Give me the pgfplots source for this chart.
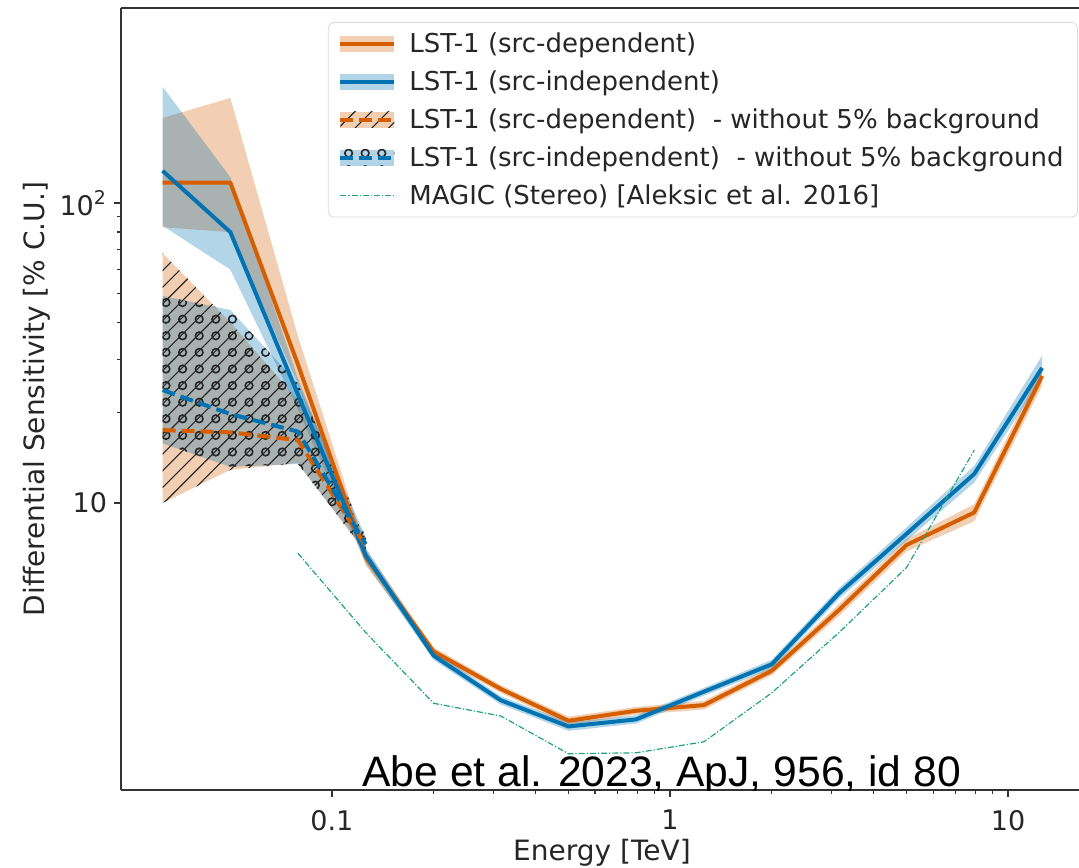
\documentclass[border=0pt]{standalone}
\usepackage{fontspec}
\setmainfont{DejaVu Sans}
\newfontfamily\arialfont{Liberation Sans}
\usepackage{pgfplots}
\pgfplotsset{compat=1.18}
\usetikzlibrary{patterns.meta}

\definecolor{cOr}{HTML}{D55E00}
\definecolor{cBl}{HTML}{0173B2}
\definecolor{cGr}{HTML}{1FA37E}

\tikzdeclarepattern{
  name=rings,
  type=uncolored,
  bottom left={(-4.15pt,-4.15pt)},
  top right={(4.15pt,4.15pt)},
  tile size={(8.3pt,8.3pt)},
  code={\draw[line width=0.8pt] (0pt,0pt) circle (1.9pt);}
}

\begin{document}
\begin{tikzpicture}
\begin{axis}[
  at={(0,0)}, anchor=south west,
  scale only axis, width=479pt, height=391pt,
  xmode=log, ymode=log,
  xmin=0.0238, xmax=16.2, ymin=1.105, ymax=446.7,
  axis y line*=left,
  xtick pos=left,
  axis line style={black!80, line width=0.8pt},
  tick align=outside,
  major tick length=3.5pt, minor tick length=2pt,
  every tick/.style={black!80, line width=0.8pt},
  every minor tick/.style={black!80, line width=0.6pt},
  xtick={0.1,1,10}, xticklabels={0.1,1,10},
  ytick={10,100}, yticklabels={10,10\textsuperscript{2}},
  tick label style={font=\fontsize{13.5}{16}\selectfont, black!85},
  xticklabel style={yshift=-3pt},
  xlabel={Energy [TeV]},
  ylabel={Differential Sensitivity [\% C.U.]},
  every axis x label/.style={at={(axis description cs:0.502,-0.08)}, anchor=center, font=\fontsize{14}{17}\selectfont, black!85},
  every axis y label/.style={at={(axis description cs:-0.0878,0.5)}, rotate=90, anchor=center, font=\fontsize{14}{17}\selectfont, black!85},
  legend style={at={(rel axis cs:0.216,0.982)}, anchor=north west,
    draw=black!15, rounded corners=3pt, fill=white,
    font=\fontsize{13}{15.6}\selectfont, text=black!85,
    row sep=3.6pt, inner xsep=5pt, inner ysep=3pt,
    /tikz/every odd column/.append style={column sep=4.5pt}},
  legend cell align=left,
]
% ---- solid bands
\addplot[forget plot, fill=cOr, fill opacity=0.3, draw=none] coordinates {
 (0.0316,192) (0.0501,224) (0.0794,36) (0.126,7.0) (0.2,3.30) (0.316,2.47) (0.501,1.94) (0.794,2.09) (1.26,2.19) (2.0,2.85) (3.16,4.6) (5.01,7.6) (7.94,9.9) (12.6,28.5)
 (12.6,24.6) (7.94,8.7) (5.01,6.9) (3.16,4.2) (2.0,2.67) (1.26,2.05) (0.794,1.97) (0.501,1.82) (0.316,2.33) (0.2,3.10) (0.126,6.2) (0.0794,25) (0.0501,80) (0.0316,83)
} -- cycle;
\addplot[forget plot, fill=cBl, fill opacity=0.3, draw=none] coordinates {
 (0.0316,244) (0.0501,122) (0.0794,26) (0.126,7.1) (0.2,3.2) (0.316,2.27) (0.501,1.86) (0.794,1.96) (1.26,2.42) (2.0,3.0) (3.16,5.2) (5.01,8.3) (7.94,13.3) (12.6,31)
 (12.6,26) (7.94,11.7) (5.01,7.5) (3.16,4.8) (2.0,2.8) (1.26,2.28) (0.794,1.84) (0.501,1.74) (0.316,2.13) (0.2,3.0) (0.126,6.3) (0.0794,20.5) (0.0501,60) (0.0316,84)
} -- cycle;
% ---- bands without background
\addplot[forget plot, fill=cOr, fill opacity=0.3, draw=none] coordinates {
 (0.0316,68) (0.0501,40) (0.0794,22) (0.126,7.6)
 (0.126,6.8) (0.0794,13.6) (0.0501,12.9) (0.0316,10)
} -- cycle;
\addplot[forget plot, fill=cBl, fill opacity=0.3, draw=none] coordinates {
 (0.0316,49) (0.0501,44) (0.0794,25) (0.126,7.7)
 (0.126,6.9) (0.0794,13.5) (0.0501,13.2) (0.0316,15.8)
} -- cycle;
\addplot[forget plot, draw=none, pattern={Lines[angle=45,distance=5.9pt,line width=0.55pt]}, pattern color=black!85] coordinates {
 (0.0316,68) (0.0501,40) (0.0794,22) (0.126,7.6)
 (0.126,6.8) (0.0794,13.6) (0.0501,12.9) (0.0316,10)
} -- cycle;
\addplot[forget plot, draw=none, pattern=rings, pattern color=black!85] coordinates {
 (0.0316,49) (0.0501,44) (0.0794,25) (0.126,7.7)
 (0.126,6.9) (0.0794,13.5) (0.0501,13.2) (0.0316,15.8)
} -- cycle;
% ---- lines
\addplot[forget plot, cOr, line width=2pt, line join=round] coordinates {
 (0.0316,117) (0.0501,117) (0.0794,29) (0.126,6.6) (0.2,3.2) (0.316,2.4) (0.501,1.88) (0.794,2.03) (1.26,2.12) (2.0,2.76) (3.16,4.4) (5.01,7.25) (7.94,9.3) (12.6,26.5)
};
\addplot[forget plot, cBl, line width=2pt, line join=round] coordinates {
 (0.0316,128) (0.0501,80) (0.0794,23) (0.126,6.7) (0.2,3.1) (0.316,2.2) (0.501,1.8) (0.794,1.9) (1.26,2.35) (2.0,2.9) (3.16,5.0) (5.01,7.9) (7.94,12.5) (12.6,28.2)
};
\addplot[forget plot, cOr, line width=2pt, dash pattern=on 6.5pt off 3pt] coordinates {
 (0.0316,17.5) (0.0501,17.2) (0.0794,16.2) (0.126,7.2)
};
\addplot[forget plot, cBl, line width=2pt, dash pattern=on 6.5pt off 3pt] coordinates {
 (0.0316,23.8) (0.0501,19.8) (0.0794,17.3) (0.126,7.3)
};
\addplot[forget plot, cGr, line width=0.6pt, dash pattern=on 3pt off 1pt on 0.6pt off 1pt] coordinates {
 (0.0794,6.8) (0.126,3.7) (0.2,2.15) (0.316,1.95) (0.501,1.46) (0.794,1.47) (1.26,1.6) (2.0,2.33) (3.16,3.7) (5.01,6.1) (7.94,15.0)
};
% ---- legend
\addlegendimage{legend image code/.code={
  \fill[cOr, fill opacity=0.3, draw=none, sharp corners] (0pt,-4pt) rectangle (27pt,4pt);
  \draw[cOr, line width=2pt, sharp corners] (0pt,0pt) -- (27pt,0pt);}}
\addlegendentry{LST-1 (src-dependent)}
\addlegendimage{legend image code/.code={
  \fill[cBl, fill opacity=0.3, draw=none, sharp corners] (0pt,-4pt) rectangle (27pt,4pt);
  \draw[cBl, line width=2pt, sharp corners] (0pt,0pt) -- (27pt,0pt);}}
\addlegendentry{LST-1 (src-independent)}
\addlegendimage{legend image code/.code={
  \fill[cOr, fill opacity=0.3, draw=none, sharp corners] (0pt,-4pt) rectangle (27pt,4pt);
  \fill[pattern={Lines[angle=45,distance=5.9pt,line width=0.55pt]}, pattern color=black!85, draw=none, sharp corners] (0pt,-4pt) rectangle (27pt,4pt);
  \draw[cOr, line width=2pt, dash pattern=on 6.5pt off 3pt, sharp corners] (0pt,0pt) -- (27pt,0pt);}}
\addlegendentry{LST-1 (src-dependent)\ \ - without 5\% background}
\addlegendimage{legend image code/.code={
  \fill[cBl, fill opacity=0.3, draw=none, sharp corners] (0pt,-4pt) rectangle (27pt,4pt);
  \fill[pattern=rings, pattern color=black!85, draw=none, sharp corners] (0pt,-4pt) rectangle (27pt,4pt);
  \draw[cBl, line width=2pt, dash pattern=on 6.5pt off 3pt, sharp corners] (0pt,0pt) -- (27pt,0pt);}}
\addlegendentry{LST-1 (src-independent)\ \ - without 5\% background}
\addlegendimage{legend image code/.code={
  \draw[cGr, line width=0.6pt, dash pattern=on 3pt off 1pt on 0.6pt off 1pt, sharp corners] (0pt,0pt) -- (27pt,0pt);}}
\addlegendentry{MAGIC (Stereo) [Aleksic et al. 2016]}
\node[anchor=base west, font=\arialfont\fontsize{21.3}{25}\selectfont, inner sep=0pt] at (rel axis cs:0.2516,0.005) {Abe et al. 2023, ApJ, 956, id 80};
\end{axis}
\pgfresetboundingbox
\path[use as bounding box] (-60.5pt,-38.5pt) rectangle (479pt,395pt);
\end{tikzpicture}
\end{document}
